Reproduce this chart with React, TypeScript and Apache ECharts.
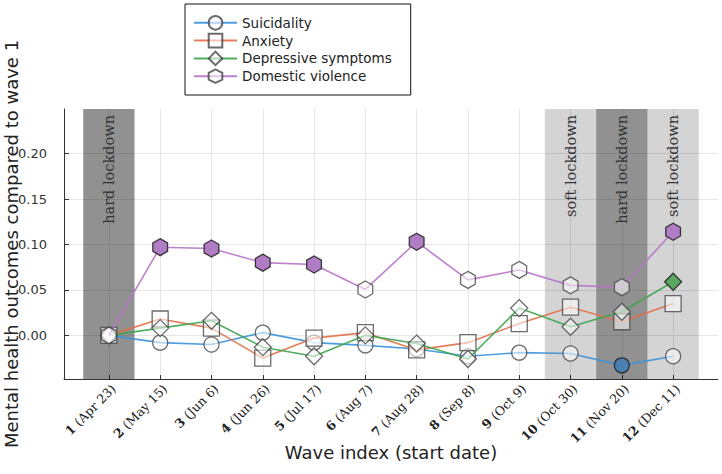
import React, { useEffect, useRef } from 'react';
import * as echarts from 'echarts';

const waves = [1, 2, 3, 4, 5, 6, 7, 8, 9, 10, 11, 12];
const waveDates = ['Apr 23', 'May 15', 'Jun 6', 'Jun 26', 'Jul 17', 'Aug 7', 'Aug 28', 'Sep 8', 'Oct 9', 'Oct 30', 'Nov 20', 'Dec 11'];
const yTicks = [0, 0.05, 0.1, 0.15, 0.2];

const suicidality = [0, -0.008, -0.010, 0.003, -0.008, -0.011, -0.015, -0.023, -0.019, -0.020, -0.033, -0.023];
const anxiety = [0, 0.018, 0.008, -0.025, -0.003, 0.003, -0.016, -0.008, 0.013, 0.031, 0.015, 0.035];
const depressive = [0, 0.008, 0.016, -0.013, -0.023, 0.0, -0.009, -0.026, 0.030, 0.0095, 0.026, 0.059];
const domestic = [0, 0.097, 0.0955, 0.080, 0.078, 0.0505, 0.103, 0.061, 0.072, 0.055, 0.053, 0.114];

const suicidalitySig = [11];
const anxietySig: number[] = [];
const depressiveSig = [12];
const domesticSig = [2, 3, 4, 5, 7, 12];

const lockdownFrom = [0.5, 9.5, 10.5, 11.5];
const lockdownTo = [1.5, 10.5, 11.5, 12.5];
const lockdownKind = ['hard', 'soft', 'hard', 'soft'];

const HEX = 'path://M0,-1 L0.866,-0.5 L0.866,0.5 L0,1 L-0.866,0.5 L-0.866,-0.5 Z';

const seriesDefs = [
  { name: 'Suicidality', values: suicidality, sig: suicidalitySig, color: '#3b93da', fill: '#4a7fb2', symbol: 'circle', size: 15 },
  { name: 'Anxiety', values: anxiety, sig: anxietySig, color: '#e36f47', fill: '#e07a55', symbol: 'rect', size: 16 },
  { name: 'Depressive symptoms', values: depressive, sig: depressiveSig, color: '#3ea44e', fill: '#5aa862', symbol: 'diamond', size: 17 },
  { name: 'Domestic violence', values: domestic, sig: domesticSig, color: '#b873c8', fill: '#b07cc4', symbol: HEX, size: 17 },
];

export default function App() {
  const ref = useRef<HTMLDivElement>(null);
  useEffect(() => {
    if (!ref.current) return;
    const chart = echarts.init(ref.current, undefined, { renderer: 'svg' });
    const series: any[] = seriesDefs.map((s, idx) => ({
      type: 'line',
      name: s.name,
      symbol: s.symbol,
      symbolSize: s.size,
      symbolKeepAspect: true,
      showAllSymbol: true,
      z: 3 + idx,
      lineStyle: { color: s.color, width: 1.6, opacity: 0.9 },
      itemStyle: { color: 'rgba(255,255,255,0.55)', borderColor: 'rgba(70,70,70,0.8)', borderWidth: 1.3 },
      emphasis: { disabled: true },
      data: waves.map((w, i) => ({
        value: [w, s.values[i]],
        itemStyle: s.sig.includes(w)
          ? { color: s.fill, opacity: 1, borderColor: 'rgba(30,30,30,0.85)', borderWidth: 1.3 }
          : undefined,
      })),
    }));
    series.push({
      type: 'line',
      name: 'lockdowns',
      data: [],
      silent: true,
      z: 1,
      markArea: {
        silent: true,
        data: lockdownFrom.map((f, i) => [
          {
            xAxis: f,
            itemStyle: { color: lockdownKind[i] === 'hard' ? 'rgba(0,0,0,0.43)' : 'rgba(0,0,0,0.17)' },
            label: {
              show: true,
              formatter: lockdownKind[i] + ' lockdown',
              position: 'insideTop',
              rotate: 90,
              align: 'right',
              verticalAlign: 'middle',
              distance: 6,
              fontFamily: 'DejaVu Serif',
              fontSize: 14.5,
              color: '#333',
            },
          },
          { xAxis: lockdownTo[i] },
        ]),
      },
    });
    chart.setOption({
      animation: false,
      backgroundColor: '#fff',
      grid: { left: 64, right: 4, top: 109, bottom: 95, containLabel: false, outerBoundsMode: 'none' },
      legend: {
        data: seriesDefs.map((s) => s.name),
        orient: 'vertical',
        left: 185,
        top: 4,
        itemWidth: 43,
        itemHeight: 17,
        itemGap: 2.2,
        padding: [11, 19, 11, 8],
        borderColor: '#111',
        borderWidth: 1,
        backgroundColor: '#fff',
        textStyle: { fontFamily: 'DejaVu Sans', fontSize: 13.5, color: '#222' },
      },
      xAxis: {
        type: 'value',
        min: 0.125,
        max: 12.875,
        name: 'Wave index (start date)',
        nameLocation: 'middle',
        nameGap: 64,
        nameMoveOverlap: false,
        nameTextStyle: { fontFamily: 'DejaVu Sans', fontSize: 18, color: '#222' },
        axisLine: { onZero: false, lineStyle: { color: '#333', width: 1 } },
        axisTick: { show: true, inside: true, length: 4, customValues: waves, lineStyle: { color: '#333' } },
        splitLine: { show: true, lineStyle: { color: '#e6e6e6', width: 1 } },
        axisLabel: {
          customValues: waves,
          rotate: 45,
          margin: 3,
          align: 'right',
          verticalAlign: 'top',
          fontFamily: 'DejaVu Serif',
          fontSize: 12.5,
          color: '#222',
          formatter: (v: number) => {
            const i = Math.round(v) - 1;
            return `{b|${waves[i]}} (${waveDates[i]})`;
          },
          rich: { b: { fontFamily: 'DejaVu Serif', fontSize: 12.5, fontWeight: 'bold', color: '#222' } },
        },
      },
      yAxis: {
        type: 'value',
        min: -0.048,
        max: 0.249,
        name: 'Mental health outcomes compared to wave 1',
        nameLocation: 'middle',
        nameGap: 44,
        nameMoveOverlap: false,
        nameTextStyle: { fontFamily: 'DejaVu Sans', fontSize: 18, color: '#222' },
        axisLine: { show: true, onZero: false, lineStyle: { color: '#333', width: 1 } },
        axisTick: { show: true, inside: true, length: 5, customValues: yTicks, lineStyle: { color: '#333' } },
        splitLine: { show: true, lineStyle: { color: '#e6e6e6', width: 1 } },
        axisLabel: {
          customValues: yTicks,
          margin: 17,
          fontFamily: 'DejaVu Sans',
          fontSize: 13,
          color: '#333',
          formatter: (v: number) => v.toFixed(2),
        },
      },
      series,
    });
    return () => chart.dispose();
  }, []);
  return <div ref={ref} style={{ width: 722, height: 474, position: 'absolute', left: 0, top: 0 }} />;
}
